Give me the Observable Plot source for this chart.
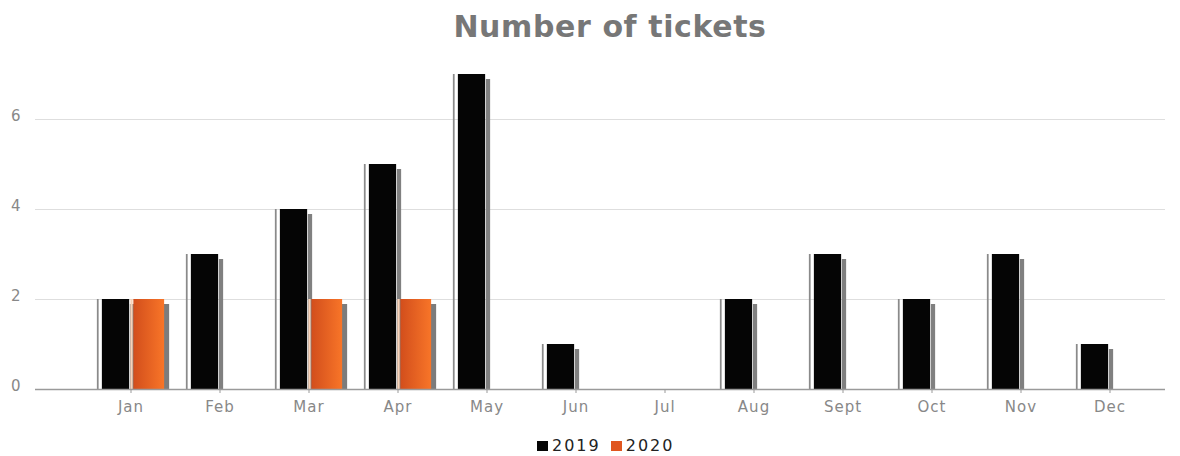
<!DOCTYPE html>
<html>
<head>
<meta charset="utf-8">
<script src="https://cdn.jsdelivr.net/npm/d3@7"></script>
<script src="https://cdn.jsdelivr.net/npm/@observablehq/plot@0.6"></script>
<style>
  html, body { margin: 0; padding: 0; background: #fff; }
  #wrap { position: relative; width: 1180px; height: 456px; font-family: "DejaVu Sans", sans-serif; }
  #title { position: absolute; left: 310px; width: 600px; top: 11.5px; text-align: center; font-size: 30px; line-height: 30px; font-weight: bold; color: #777; letter-spacing: 0.6px; }
  #legend { position: absolute; left: 537px; top: 437.5px; font-size: 16px; line-height: 16px; color: #222; letter-spacing: 2px; white-space: nowrap; }
  .sw { display: inline-block; width: 11px; height: 10px; margin-right: 4px; vertical-align: 0px; }
  .item { margin-right: 10px; }
  #chart { position: absolute; left: 0; top: 0; }
</style>
</head>
<body>
<div id="wrap">
  <div id="chart"></div>
  <div id="title">Number of tickets</div>
  <div id="legend"><span class="item"><span class="sw" style="background:#050505"></span>2019</span><span class="item"><span class="sw" style="background:#e0561f"></span>2020</span></div>
</div>
<script>
const months = ["Jan","Feb","Mar","Apr","May","Jun","Jul","Aug","Sept","Oct","Nov","Dec"];
const values2019 = [2,3,4,5,7,1,0,2,3,2,3,1];
const values2020 = [2,0,2,2,0,0,0,0,0,0,0,0];
const yTicks = [0,2,4,6];

const d2019 = months.map((m,i)=>({month:m, value:values2019[i]})).filter(d=>d.value>0);
const d2020 = months.map((m,i)=>({month:m, value:values2020[i]})).filter(d=>d.value>0);

const xRange = [81, 1158];
const bw = (xRange[1]-xRange[0])/months.length;
// bar between offsets (left,right) relative to band center
function seg(data, left, right, opts) {
  return Plot.barY(data, {x:"month", y:"value", insetLeft: bw/2 + left, insetRight: bw/2 - right, ...opts});
}

const chart = Plot.plot({
  width: 1180,
  height: 456,
  marginLeft: 35,
  marginRight: 15,
  marginTop: 74,
  marginBottom: 67,
  x: {domain: months, range: xRange, padding: 0, label: null},
  y: {domain: [0,7], label: null},
  style: {fontFamily: "DejaVu Sans, sans-serif", fontSize: "15px", color: "#888", background: "transparent"},
  marks: [
    Plot.ruleY(yTicks.filter(t=>t>0), {stroke:"#dedede", strokeWidth:1}),
    Plot.axisY({ticks: yTicks, tickFormat: d3.format("d"), tickSize: 0, tickPadding: 15, fontSize: 15, fill:"#888", dy: -3}),
    Plot.axisX({tickSize: 4, tickPadding: 8, fontSize: 15, fill:"#888", stroke:"#999"}),
    // 2019
    seg(d2019, -1, 4, {fill:"#808080", insetTop:5}),
    seg(d2019, -34, -31.5, {fill:"#8a8a8a"}),
    seg(d2019, -29, -1, {fill:"#050505"}),
    // 2020
    seg(d2020, 33, 39, {fill:"#7c7c7c", insetTop:5}),
    seg(d2020, -0.5, 2.5, {fill:"#f8d2b8"}),
    seg(d2020, 2.5, 34, {fill:"url(#orangeGrad)"}),
    Plot.ruleY([0], {stroke:"#9a9a9a", strokeWidth:1.5})
  ]
});

const ns = "http://www.w3.org/2000/svg";
const defs = document.createElementNS(ns, "defs");
defs.innerHTML = '<linearGradient id="orangeGrad" x1="0" x2="1" y1="0" y2="0"><stop offset="0" stop-color="#d24e1c"/><stop offset="1" stop-color="#f87528"/></linearGradient>';
chart.insertBefore(defs, chart.firstChild);
chart.querySelectorAll('g[aria-label="x-axis tick label"] text').forEach(t => t.setAttribute("letter-spacing", "1"));
document.getElementById("chart").appendChild(chart);
</script>
</body>
</html>
